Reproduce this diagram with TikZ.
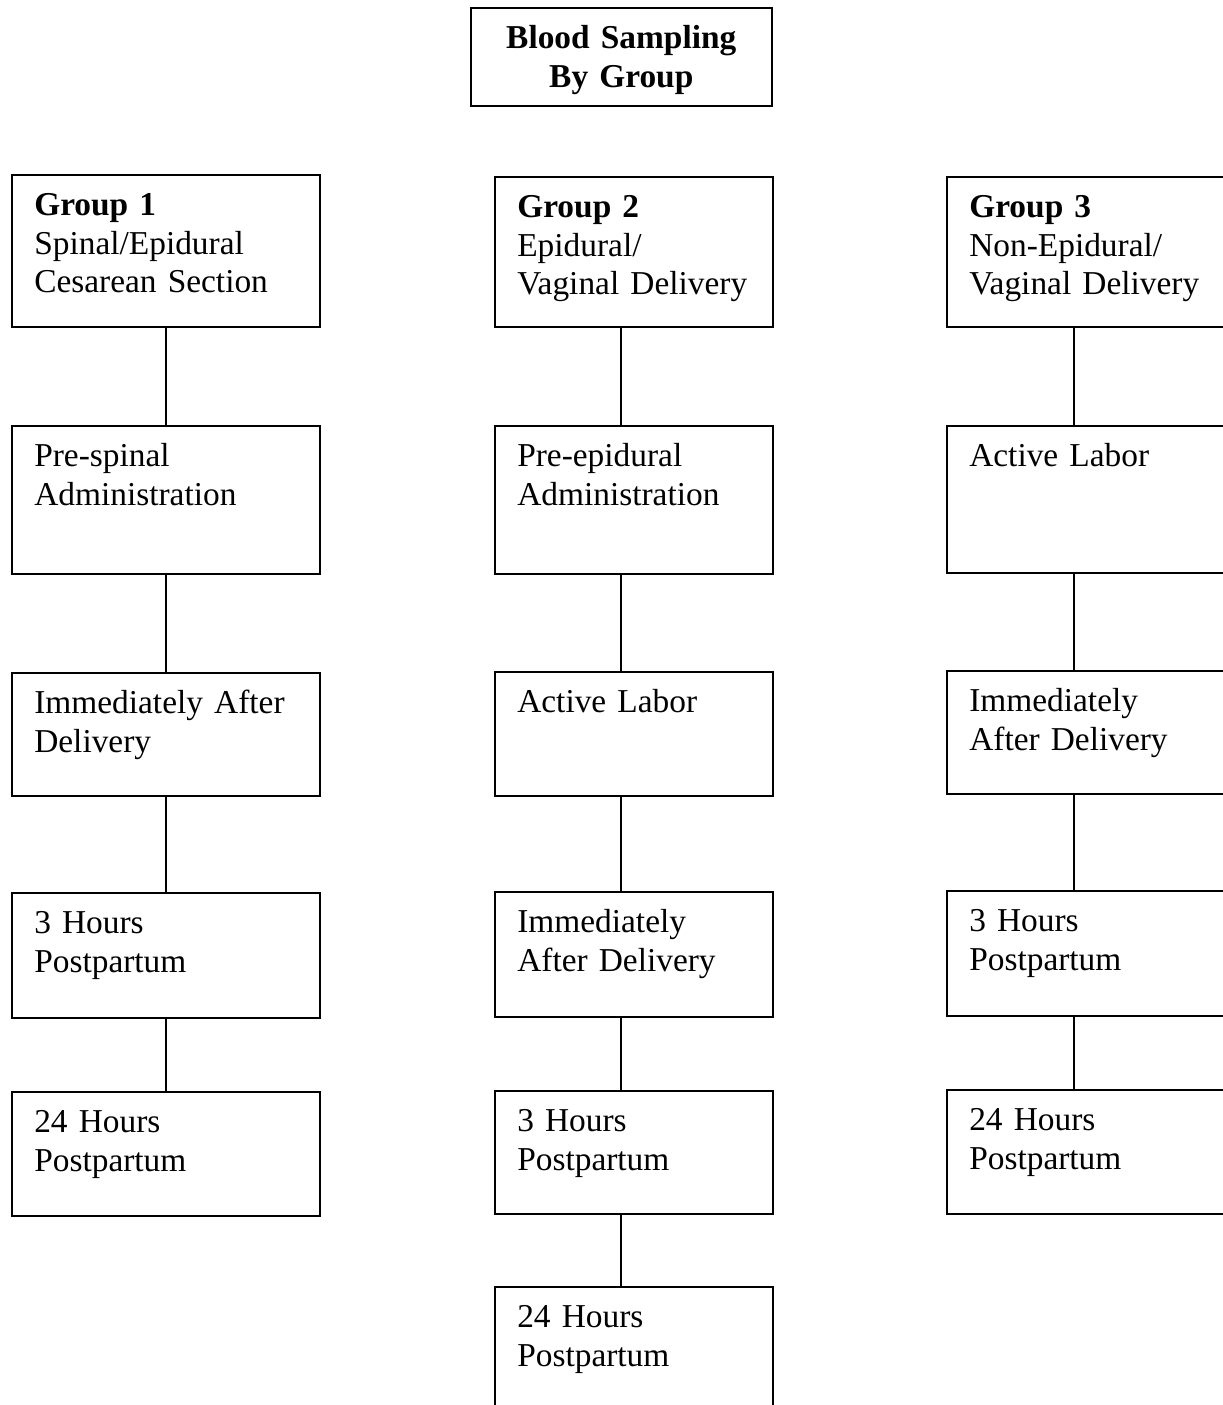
\documentclass[tikz,border=0pt]{standalone}
\usepackage{fontspec}
\setmainfont{Liberation Serif}
\usepackage{tikz}

\tikzset{
  box/.style={draw, line width=0.9pt, anchor=north west, inner sep=0pt},
  lbl/.style={anchor=base west, xshift=0.45cm, yshift=-0.83cm, inner sep=0pt,
              text width=5.6cm, align=left},
}

\begin{document}
\begin{tikzpicture}[font=\fontsize{19pt}{22pt}\selectfont, line width=0.9pt]
\useasboundingbox (0,0) rectangle (24.46,-28.10);
\clip (0,0) rectangle (24.46,-28.10);
% title
\node[box, minimum width=6.02cm, minimum height=1.96cm, label={[anchor=base, yshift=-0.83cm, inner sep=0pt, text width=5.8cm, align=center, font=\fontsize{19pt}{22pt}\selectfont\bfseries]north:{Blood Sampling\\By Group}}] (title) at (9.40,-0.14) {};
% group 1
\node[box, minimum width=6.16cm, minimum height=3.04cm, label={[lbl]north west:{\textbf{Group 1}\\Spinal/Epidural\\Cesarean Section}}] (g1h) at (0.22,-3.48) {};
\node[box, minimum width=6.16cm, minimum height=2.96cm, label={[lbl]north west:{Pre-spinal\\Administration}}] (g1a) at (0.22,-8.50) {};
\node[box, minimum width=6.16cm, minimum height=2.46cm, label={[lbl]north west:{Immediately After\\Delivery}}] (g1b) at (0.22,-13.44) {};
\node[box, minimum width=6.16cm, minimum height=2.50cm, label={[lbl]north west:{3 Hours\\Postpartum}}] (g1c) at (0.22,-17.84) {};
\node[box, minimum width=6.16cm, minimum height=2.48cm, label={[lbl]north west:{24 Hours\\Postpartum}}] (g1d) at (0.22,-21.82) {};
% group 2
\node[box, minimum width=5.56cm, minimum height=3.00cm, label={[lbl]north west:{\textbf{Group 2}\\Epidural/\\Vaginal Delivery}}] (g2h) at (9.88,-3.52) {};
\node[box, minimum width=5.56cm, minimum height=2.96cm, label={[lbl]north west:{Pre-epidural\\Administration}}] (g2a) at (9.88,-8.50) {};
\node[box, minimum width=5.56cm, minimum height=2.48cm, label={[lbl]north west:{Active Labor}}] (g2b) at (9.88,-13.42) {};
\node[box, minimum width=5.56cm, minimum height=2.50cm, label={[lbl]north west:{Immediately\\After Delivery}}] (g2c) at (9.88,-17.82) {};
\node[box, minimum width=5.56cm, minimum height=2.46cm, label={[lbl]north west:{3 Hours\\Postpartum}}] (g2d) at (9.88,-21.80) {};
\node[box, minimum width=5.56cm, minimum height=3.00cm, label={[lbl]north west:{24 Hours\\Postpartum}}] (g2e) at (9.88,-25.72) {};
% group 3
\node[box, minimum width=5.56cm, minimum height=3.00cm, label={[lbl]north west:{\textbf{Group 3}\\Non-Epidural/\\Vaginal Delivery}}] (g3h) at (18.92,-3.52) {};
\node[box, minimum width=5.56cm, minimum height=2.94cm, label={[lbl]north west:{Active Labor}}] (g3a) at (18.92,-8.50) {};
\node[box, minimum width=5.56cm, minimum height=2.46cm, label={[lbl]north west:{Immediately\\After Delivery}}] (g3b) at (18.92,-13.40) {};
\node[box, minimum width=5.56cm, minimum height=2.50cm, label={[lbl]north west:{3 Hours\\Postpartum}}] (g3c) at (18.92,-17.80) {};
\node[box, minimum width=5.56cm, minimum height=2.48cm, label={[lbl]north west:{24 Hours\\Postpartum}}] (g3d) at (18.92,-21.78) {};
% connectors
\foreach \a/\b in {g1h/g1a, g1a/g1b, g1b/g1c, g1c/g1d}
  \draw (\a.south) -- (\b.north);
\foreach \a/\b in {g2h/g2a, g2a/g2b, g2b/g2c, g2c/g2d, g2d/g2e}
  \draw ([xshift=-0.26cm]\a.south) -- ([xshift=-0.26cm]\b.north);
\foreach \a/\b in {g3h/g3a, g3a/g3b, g3b/g3c, g3c/g3d}
  \draw ([xshift=-0.24cm]\a.south) -- ([xshift=-0.24cm]\b.north);
\end{tikzpicture}
\end{document}
